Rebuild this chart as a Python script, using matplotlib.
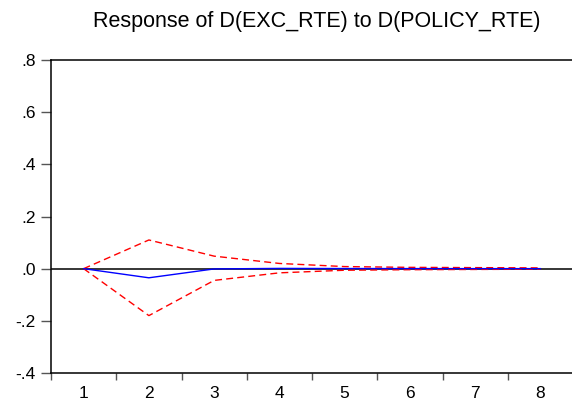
import matplotlib
matplotlib.use("Agg")
import matplotlib.pyplot as plt
from matplotlib.ticker import FuncFormatter

periods = [1, 2, 3, 4, 5, 6, 7, 8]
response = [0.0, -0.035, -0.001, 0.001, 0.0005, 0.0003, 0.0002, 0.0001]
upper = [0.0, 0.110, 0.048, 0.020, 0.008, 0.005, 0.004, 0.003]
lower = [0.0, -0.180, -0.045, -0.016, -0.006, -0.004, -0.003, -0.002]
title = "Response of D(EXC_RTE) to D(POLICY_RTE)"
yticks = [-0.4, -0.2, 0.0, 0.2, 0.4, 0.6, 0.8]

plt.rcParams['font.family'] = ['Liberation Sans', 'DejaVu Sans']

fig = plt.figure(figsize=(5.72, 4.04), dpi=100)
W, H = 572, 404
ax = fig.add_axes([51 / W, (H - 373) / H, (573 - 51) / W, (373 - 60) / H])

ax.axhline(0, color='black', lw=1.1, zorder=1)
ax.plot(periods, response, color='blue', lw=1.0, zorder=3)
ax.plot(periods, upper, color='red', lw=1.0, dashes=(5, 3), zorder=2)
ax.plot(periods, lower, color='red', lw=1.0, dashes=(5, 3), zorder=2)

ax.set_xlim(0.5, 8.5)
ax.set_ylim(-0.4, 0.8)
ax.set_yticks(yticks)

def fmt(v, pos):
    s = f"{v:.1f}"
    if s.startswith("-0"):
        s = "-" + s[2:]
    elif s.startswith("0"):
        s = s[1:]
    return s

ax.yaxis.set_major_formatter(FuncFormatter(fmt))
ax.set_xticks([p - 0.5 for p in periods] + [8.5])
ax.set_xticklabels([])
ax.set_xticks(periods, minor=True)
ax.set_xticklabels([str(p) for p in periods], minor=True)
ax.tick_params(axis='x', which='minor', length=0, labelsize=12.5, pad=9)
ax.tick_params(axis='x', which='major', length=5, direction='out', width=1, color='#555555')
ax.tick_params(axis='y', length=7, direction='out', width=1, labelsize=12.5, pad=4, color='#555555')

for s in ['left', 'bottom', 'top', 'right']:
    ax.spines[s].set_linewidth(1.1)
    ax.spines[s].set_color('black')

fig.text(317 / W, 1 - 21 / H, title, ha='center', va='center', fontsize=15.5)

fig.savefig("out.png", dpi=100)
